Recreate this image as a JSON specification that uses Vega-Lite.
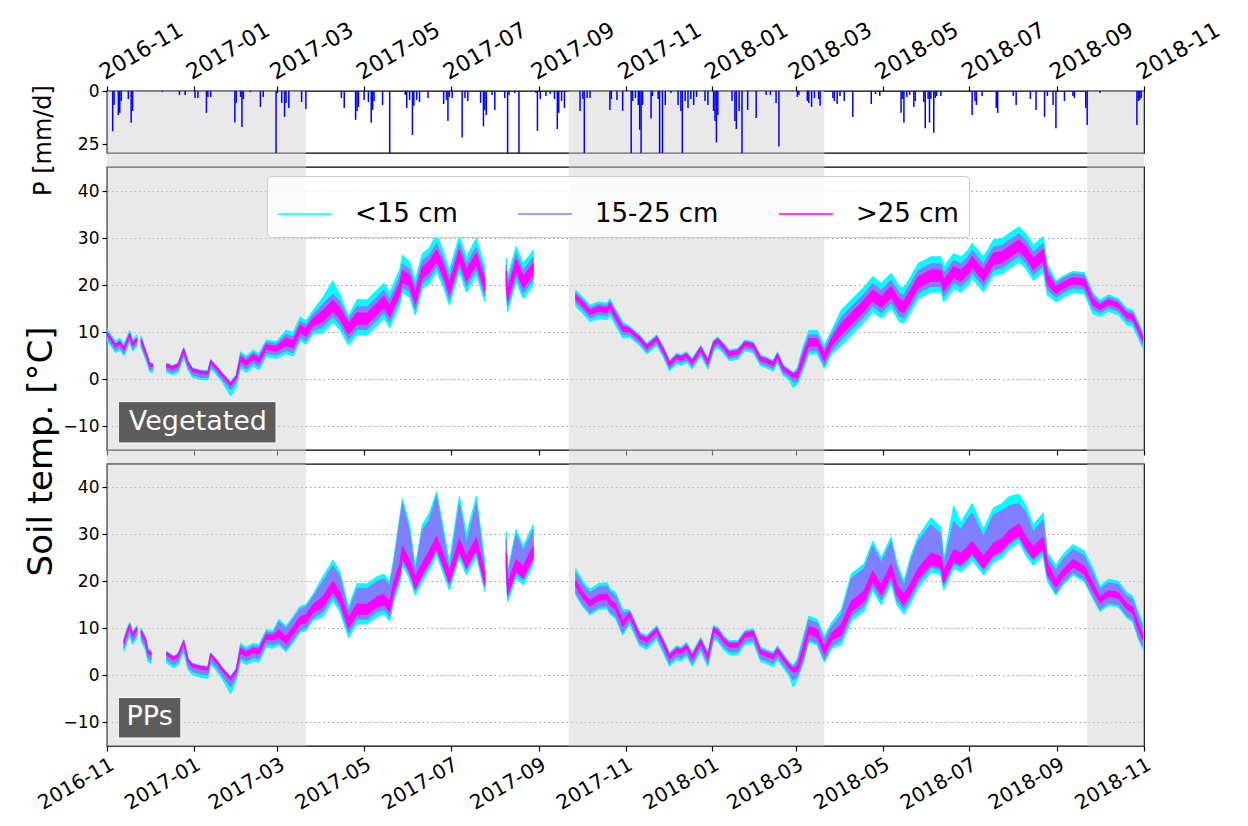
{
"$schema": "https://vega.github.io/schema/vega-lite/v6.json",
"padding": {"left": 23, "top": 17, "right": 10, "bottom": 5},
"background": "white",
"bounds": "flush",
"spacing": 14,
"config": {
  "font": "DejaVu Sans",
  "view": {"stroke": "#000000", "strokeWidth": 1.3},
  "axis": {"domain": false, "grid": false, "labelFont": "DejaVu Sans", "labelFontSize": 17, "labelColor": "#000000", "tickColor": "#000000", "tickSize": 5, "tickWidth": 1.2, "labelPadding": 3, "titleFont": "DejaVu Sans", "titleFontWeight": "normal", "titleColor": "#000000", "labelOverlap": false, "labelFlush": false, "labelBound": false}
},
"datasets": {
  "shade": [
    {"s": "2016-11-01", "e": "2017-03-21"},
    {"s": "2017-09-22", "e": "2018-03-21"},
    {"s": "2018-09-22", "e": "2018-11-01"}
  ],
  "precip": [
    {"d":"2016-11-05","mm":19},{"d":"2016-11-06","mm":6.6},{"d":"2016-11-09","mm":11.3},{"d":"2016-11-10","mm":10.3},{"d":"2016-11-11","mm":4.7},{"d":"2016-11-16","mm":3.8},{"d":"2016-11-18","mm":15},{"d":"2016-11-19","mm":9.4},
    {"d":"2016-12-10","mm":0.5},{"d":"2016-12-22","mm":1.9},{"d":"2016-12-26","mm":1.9},
    {"d":"2017-01-02","mm":3.3},{"d":"2017-01-04","mm":3.3},{"d":"2017-01-10","mm":10.3},{"d":"2017-01-11","mm":2.8},{"d":"2017-01-13","mm":2.8},{"d":"2017-01-30","mm":14.8},{"d":"2017-01-31","mm":5.6},
    {"d":"2017-02-03","mm":2.8},{"d":"2017-02-04","mm":16.9},{"d":"2017-02-05","mm":3.8},{"d":"2017-02-10","mm":0.5},{"d":"2017-02-17","mm":7.5},{"d":"2017-02-19","mm":2.8},{"d":"2017-02-28","mm":35},
    {"d":"2017-03-01","mm":1},{"d":"2017-03-04","mm":5.6},{"d":"2017-03-06","mm":12.2},{"d":"2017-03-07","mm":5.6},{"d":"2017-03-09","mm":8},{"d":"2017-03-18","mm":5.2},{"d":"2017-03-21","mm":8.5},
    {"d":"2017-04-15","mm":3.3},{"d":"2017-04-17","mm":8},{"d":"2017-04-25","mm":13.6},{"d":"2017-04-26","mm":9.4},{"d":"2017-04-27","mm":7.5},
    {"d":"2017-05-01","mm":4.2},{"d":"2017-05-04","mm":5.2},{"d":"2017-05-06","mm":15},{"d":"2017-05-07","mm":8.9},{"d":"2017-05-08","mm":4.7},{"d":"2017-05-14","mm":6.6},{"d":"2017-05-19","mm":35},{"d":"2017-05-30","mm":1.9},{"d":"2017-05-31","mm":8},
    {"d":"2017-06-02","mm":4.2},{"d":"2017-06-04","mm":20.7},{"d":"2017-06-05","mm":7},{"d":"2017-06-07","mm":4.2},{"d":"2017-06-09","mm":5.2},{"d":"2017-06-15","mm":3.3},{"d":"2017-06-26","mm":6.1},{"d":"2017-06-28","mm":4.2},{"d":"2017-06-29","mm":14.1},{"d":"2017-06-30","mm":2.8},
    {"d":"2017-07-02","mm":3.3},{"d":"2017-07-09","mm":21.9},{"d":"2017-07-11","mm":3.3},{"d":"2017-07-13","mm":4.7},{"d":"2017-07-22","mm":5.6},{"d":"2017-07-24","mm":16.7},{"d":"2017-07-25","mm":8.9},{"d":"2017-07-26","mm":11.3},{"d":"2017-07-30","mm":1.9},
    {"d":"2017-08-01","mm":8.9},{"d":"2017-08-08","mm":3.3},{"d":"2017-08-10","mm":35},{"d":"2017-08-11","mm":1.9},{"d":"2017-08-15","mm":1},{"d":"2017-08-18","mm":35},{"d":"2017-08-30","mm":1},{"d":"2017-08-31","mm":18.8},
    {"d":"2017-09-02","mm":3.8},{"d":"2017-09-06","mm":2.4},{"d":"2017-09-09","mm":1.4},{"d":"2017-09-12","mm":3.8},{"d":"2017-09-14","mm":17.9},{"d":"2017-09-15","mm":10.3},{"d":"2017-09-17","mm":4.7},{"d":"2017-09-19","mm":8},{"d":"2017-09-30","mm":9.4},
    {"d":"2017-10-02","mm":3.8},{"d":"2017-10-03","mm":35},{"d":"2017-10-05","mm":3.3},{"d":"2017-10-07","mm":3.3},{"d":"2017-10-21","mm":8.9},{"d":"2017-10-22","mm":3.8},{"d":"2017-10-26","mm":4.2},{"d":"2017-10-30","mm":9.4},
    {"d":"2017-11-05","mm":35},{"d":"2017-11-06","mm":4.7},{"d":"2017-11-08","mm":3.3},{"d":"2017-11-10","mm":6.6},{"d":"2017-11-11","mm":18.3},{"d":"2017-11-12","mm":35},{"d":"2017-11-13","mm":6.6},{"d":"2017-11-19","mm":12.9},{"d":"2017-11-20","mm":2.4},{"d":"2017-11-24","mm":3.8},{"d":"2017-11-25","mm":35},{"d":"2017-11-27","mm":35},{"d":"2017-11-29","mm":6.6},
    {"d":"2017-12-03","mm":1},{"d":"2017-12-08","mm":6.6},{"d":"2017-12-10","mm":9.4},{"d":"2017-12-11","mm":35},{"d":"2017-12-13","mm":4.7},{"d":"2017-12-15","mm":8},{"d":"2017-12-17","mm":3.8},{"d":"2017-12-19","mm":6.6},{"d":"2017-12-21","mm":2.8},{"d":"2017-12-27","mm":4.7},{"d":"2017-12-29","mm":6.6},
    {"d":"2018-01-02","mm":9.4},{"d":"2018-01-03","mm":14.1},{"d":"2018-01-04","mm":24.2},{"d":"2018-01-05","mm":11.3},{"d":"2018-01-15","mm":4.7},{"d":"2018-01-17","mm":14.1},{"d":"2018-01-18","mm":17.9},{"d":"2018-01-20","mm":9.4},{"d":"2018-01-22","mm":35},{"d":"2018-01-26","mm":8.9},
    {"d":"2018-02-01","mm":12.7},{"d":"2018-02-08","mm":1.9},{"d":"2018-02-11","mm":1.9},{"d":"2018-02-15","mm":5.6},{"d":"2018-02-17","mm":26.1},
    {"d":"2018-03-02","mm":2.8},{"d":"2018-03-03","mm":1.9},{"d":"2018-03-09","mm":4.7},{"d":"2018-03-10","mm":5.6},{"d":"2018-03-12","mm":7.5},{"d":"2018-03-14","mm":3.3},{"d":"2018-03-17","mm":3.8},{"d":"2018-03-18","mm":7},{"d":"2018-03-27","mm":3.3},{"d":"2018-03-28","mm":4.7},{"d":"2018-03-30","mm":6.1},
    {"d":"2018-04-01","mm":2.4},{"d":"2018-04-04","mm":4.7},{"d":"2018-04-10","mm":12.2},{"d":"2018-04-23","mm":6.1},{"d":"2018-04-26","mm":1.4},{"d":"2018-04-29","mm":2.4},
    {"d":"2018-05-14","mm":10.3},{"d":"2018-05-15","mm":3.8},{"d":"2018-05-16","mm":15},{"d":"2018-05-18","mm":2.8},{"d":"2018-05-20","mm":1.9},{"d":"2018-05-23","mm":7.5},{"d":"2018-05-24","mm":4.7},{"d":"2018-05-30","mm":5.2},{"d":"2018-05-31","mm":17.6},
    {"d":"2018-06-02","mm":3.8},{"d":"2018-06-03","mm":14.9},{"d":"2018-06-04","mm":3.8},{"d":"2018-06-06","mm":19.7},{"d":"2018-06-07","mm":3.3},{"d":"2018-06-08","mm":2.4},{"d":"2018-06-11","mm":2.4},
    {"d":"2018-07-03","mm":11.3},{"d":"2018-07-05","mm":4.7},{"d":"2018-07-06","mm":6.6},{"d":"2018-07-10","mm":2.4},{"d":"2018-07-20","mm":8},{"d":"2018-07-21","mm":10.3},
    {"d":"2018-08-01","mm":2.4},{"d":"2018-08-03","mm":6.6},{"d":"2018-08-13","mm":3.8},{"d":"2018-08-17","mm":8.9},{"d":"2018-08-23","mm":12.2},{"d":"2018-08-25","mm":2.4},{"d":"2018-08-29","mm":6.6},{"d":"2018-08-31","mm":17.6},
    {"d":"2018-09-06","mm":4.7},{"d":"2018-09-12","mm":2.4},{"d":"2018-09-13","mm":3.3},{"d":"2018-09-21","mm":8},{"d":"2018-09-22","mm":16},
    {"d":"2018-10-01","mm":1},{"d":"2018-10-27","mm":16},{"d":"2018-10-28","mm":4.7},{"d":"2018-10-29","mm":4.2},{"d":"2018-10-30","mm":3.3}
  ],
  "veg": [
    {"d":"2016-11-01","g":1,"cl":8.3,"ch":10.8,"bl":8.8,"bh":10.2,"ml":9.5,"mh":10.1},
    {"d":"2016-11-04","g":1,"cl":7.0,"ch":9.5,"bl":7.5,"bh":8.9,"ml":8.2,"mh":8.8},
    {"d":"2016-11-07","g":1,"cl":5.7,"ch":8.2,"bl":6.2,"bh":7.6,"ml":6.9,"mh":7.5},
    {"d":"2016-11-10","g":1,"cl":6.3,"ch":8.8,"bl":6.8,"bh":8.2,"ml":7.5,"mh":8.1},
    {"d":"2016-11-13","g":1,"cl":5.0,"ch":7.5,"bl":5.5,"bh":6.9,"ml":6.2,"mh":6.8},
    {"d":"2016-11-17","g":1,"cl":8.0,"ch":10.5,"bl":8.5,"bh":9.9,"ml":9.2,"mh":9.8},
    {"d":"2016-11-19","g":1,"cl":6.0,"ch":8.5,"bl":6.5,"bh":7.9,"ml":7.2,"mh":7.8},
    {"d":"2016-11-22","g":1,"cl":7.0,"ch":9.5,"bl":7.5,"bh":8.9,"ml":8.2,"mh":8.8},
    {"d":"2016-11-25","g":2,"cl":6.8,"ch":9.3,"bl":7.3,"bh":8.7,"ml":8.0,"mh":8.6},
    {"d":"2016-11-29","g":2,"cl":3.6,"ch":5.6,"bl":4.1,"bh":5.3,"ml":4.8,"mh":5.4},
    {"d":"2016-12-01","g":2,"cl":1.6,"ch":3.6,"bl":2.1,"bh":3.3,"ml":2.8,"mh":3.4},
    {"d":"2016-12-03","g":2,"cl":1.5,"ch":3.5,"bl":2.0,"bh":3.2,"ml":2.7,"mh":3.3},
    {"d":"2016-12-13","g":3,"cl":1.5,"ch":3.5,"bl":2.0,"bh":3.2,"ml":2.7,"mh":3.3},
    {"d":"2016-12-17","g":3,"cl":1.0,"ch":3.0,"bl":1.5,"bh":2.7,"ml":2.2,"mh":2.8},
    {"d":"2016-12-21","g":3,"cl":1.5,"ch":3.5,"bl":2.0,"bh":3.2,"ml":2.7,"mh":3.3},
    {"d":"2016-12-25","g":3,"cl":4.8,"ch":6.8,"bl":5.3,"bh":6.5,"ml":6.0,"mh":6.6},
    {"d":"2016-12-28","g":3,"cl":2.0,"ch":4.0,"bl":2.5,"bh":3.7,"ml":3.2,"mh":3.8},
    {"d":"2016-12-31","g":3,"cl":0.5,"ch":2.5,"bl":1.0,"bh":2.2,"ml":1.7,"mh":2.3},
    {"d":"2017-01-06","g":3,"cl":0.0,"ch":2.0,"bl":0.5,"bh":1.7,"ml":1.2,"mh":1.8},
    {"d":"2017-01-11","g":3,"cl":-0.1,"ch":1.9,"bl":0.4,"bh":1.6,"ml":1.1,"mh":1.7},
    {"d":"2017-01-13","g":3,"cl":2.3,"ch":4.3,"bl":2.8,"bh":4.0,"ml":3.5,"mh":4.1},
    {"d":"2017-01-17","g":3,"cl":1.0,"ch":3.0,"bl":1.5,"bh":2.7,"ml":2.2,"mh":2.8},
    {"d":"2017-01-21","g":3,"cl":-0.5,"ch":1.5,"bl":0.0,"bh":1.2,"ml":0.7,"mh":1.3},
    {"d":"2017-01-27","g":3,"cl":-3.5,"ch":-0.4,"bl":-2.2,"bh":-0.8,"ml":-1.3,"mh":-0.7},
    {"d":"2017-01-31","g":3,"cl":-1.5,"ch":1.0,"bl":-0.5,"bh":0.7,"ml":0.2,"mh":0.8},
    {"d":"2017-02-03","g":3,"cl":2.4,"ch":5.9,"bl":3.1,"bh":5.4,"ml":3.9,"mh":4.9},
    {"d":"2017-02-07","g":3,"cl":1.5,"ch":5.0,"bl":2.2,"bh":4.5,"ml":3.0,"mh":4.0},
    {"d":"2017-02-12","g":3,"cl":2.8,"ch":6.3,"bl":3.5,"bh":5.8,"ml":4.3,"mh":5.3},
    {"d":"2017-02-16","g":3,"cl":2.0,"ch":5.5,"bl":2.7,"bh":5.0,"ml":3.5,"mh":4.5},
    {"d":"2017-02-21","g":3,"cl":4.9,"ch":8.4,"bl":5.6,"bh":7.9,"ml":6.4,"mh":7.4},
    {"d":"2017-02-28","g":3,"cl":4.5,"ch":8.0,"bl":5.2,"bh":7.5,"ml":6.0,"mh":7.0},
    {"d":"2017-03-07","g":3,"cl":5.5,"ch":10.5,"bl":6.2,"bh":9.6,"ml":7.2,"mh":8.8},
    {"d":"2017-03-12","g":3,"cl":5.0,"ch":10.0,"bl":5.7,"bh":9.1,"ml":6.7,"mh":8.3},
    {"d":"2017-03-17","g":3,"cl":8.3,"ch":13.3,"bl":9.0,"bh":12.4,"ml":10.0,"mh":11.6},
    {"d":"2017-03-21","g":3,"cl":7.5,"ch":12.5,"bl":8.2,"bh":11.6,"ml":9.2,"mh":10.8},
    {"d":"2017-03-26","g":3,"cl":9.7,"ch":14.7,"bl":10.4,"bh":13.8,"ml":11.4,"mh":13.0},
    {"d":"2017-04-02","g":3,"cl":10.0,"ch":17.5,"bl":11.2,"bh":16.0,"ml":12.3,"mh":14.7},
    {"d":"2017-04-09","g":3,"cl":12.2,"ch":21.0,"bl":13.4,"bh":18.2,"ml":14.5,"mh":16.9},
    {"d":"2017-04-14","g":3,"cl":10.5,"ch":18.0,"bl":11.7,"bh":16.5,"ml":12.8,"mh":15.2},
    {"d":"2017-04-20","g":3,"cl":7.3,"ch":13.5,"bl":8.5,"bh":12.8,"ml":9.6,"mh":12.0},
    {"d":"2017-04-26","g":3,"cl":9.5,"ch":17.0,"bl":10.7,"bh":15.5,"ml":11.8,"mh":14.2},
    {"d":"2017-05-03","g":3,"cl":9.4,"ch":16.9,"bl":10.6,"bh":15.4,"ml":11.7,"mh":14.1},
    {"d":"2017-05-10","g":3,"cl":11.5,"ch":19.0,"bl":12.7,"bh":17.5,"ml":13.8,"mh":16.2},
    {"d":"2017-05-15","g":3,"cl":13.0,"ch":20.5,"bl":14.2,"bh":19.0,"ml":15.3,"mh":17.7},
    {"d":"2017-05-19","g":3,"cl":11.0,"ch":18.5,"bl":12.2,"bh":17.0,"ml":13.3,"mh":15.7},
    {"d":"2017-05-26","g":3,"cl":15.8,"ch":23.3,"bl":17.0,"bh":21.8,"ml":18.1,"mh":20.5},
    {"d":"2017-05-28","g":3,"cl":18.5,"ch":26.5,"bl":19.7,"bh":24.5,"ml":20.8,"mh":23.2},
    {"d":"2017-06-02","g":3,"cl":17.5,"ch":25.0,"bl":18.7,"bh":23.5,"ml":19.8,"mh":22.2},
    {"d":"2017-06-06","g":3,"cl":13.7,"ch":21.2,"bl":14.9,"bh":19.7,"ml":16.0,"mh":18.4},
    {"d":"2017-06-11","g":3,"cl":19.3,"ch":26.8,"bl":20.5,"bh":25.3,"ml":21.6,"mh":24.0},
    {"d":"2017-06-16","g":3,"cl":20.5,"ch":28.0,"bl":21.7,"bh":26.5,"ml":22.8,"mh":25.2},
    {"d":"2017-06-21","g":3,"cl":22.9,"ch":31.0,"bl":24.1,"bh":28.9,"ml":25.2,"mh":27.6},
    {"d":"2017-06-26","g":3,"cl":19.5,"ch":27.0,"bl":20.7,"bh":25.5,"ml":21.8,"mh":24.2},
    {"d":"2017-06-30","g":3,"cl":15.8,"ch":23.3,"bl":17.0,"bh":21.8,"ml":18.1,"mh":20.5},
    {"d":"2017-07-07","g":3,"cl":22.9,"ch":30.5,"bl":24.1,"bh":28.9,"ml":25.2,"mh":27.6},
    {"d":"2017-07-12","g":3,"cl":18.6,"ch":26.1,"bl":19.8,"bh":24.6,"ml":20.9,"mh":23.3},
    {"d":"2017-07-19","g":3,"cl":22.2,"ch":30.0,"bl":23.4,"bh":28.2,"ml":24.5,"mh":26.9},
    {"d":"2017-07-25","g":3,"cl":16.5,"ch":24.0,"bl":17.7,"bh":22.5,"ml":18.8,"mh":21.2},
    {"d":"2017-08-09","g":4,"cl":18.3,"ch":25.8,"bl":19.5,"bh":24.3,"ml":20.6,"mh":23.0},
    {"d":"2017-08-10","g":4,"cl":14.4,"ch":21.9,"bl":15.6,"bh":20.4,"ml":16.7,"mh":19.1},
    {"d":"2017-08-16","g":4,"cl":20.8,"ch":28.3,"bl":22.0,"bh":26.8,"ml":23.1,"mh":25.5},
    {"d":"2017-08-21","g":4,"cl":17.2,"ch":24.7,"bl":18.4,"bh":23.2,"ml":19.5,"mh":21.9},
    {"d":"2017-08-28","g":4,"cl":20.0,"ch":27.5,"bl":21.2,"bh":26.0,"ml":22.3,"mh":24.7},
    {"d":"2017-09-27","g":5,"cl":15.5,"ch":19.0,"bl":16.3,"bh":18.5,"ml":17.0,"mh":18.0},
    {"d":"2017-10-02","g":5,"cl":14.0,"ch":17.5,"bl":14.8,"bh":17.0,"ml":15.5,"mh":16.5},
    {"d":"2017-10-07","g":5,"cl":12.3,"ch":15.8,"bl":13.1,"bh":15.3,"ml":13.8,"mh":14.8},
    {"d":"2017-10-13","g":5,"cl":13.0,"ch":16.5,"bl":13.8,"bh":16.0,"ml":14.5,"mh":15.5},
    {"d":"2017-10-19","g":5,"cl":12.7,"ch":16.2,"bl":13.5,"bh":15.7,"ml":14.2,"mh":15.2},
    {"d":"2017-10-21","g":5,"cl":13.7,"ch":17.2,"bl":14.5,"bh":16.7,"ml":15.2,"mh":16.2},
    {"d":"2017-10-25","g":5,"cl":11.5,"ch":15.0,"bl":12.3,"bh":14.5,"ml":13.0,"mh":14.0},
    {"d":"2017-10-30","g":5,"cl":8.8,"ch":12.3,"bl":9.6,"bh":11.8,"ml":10.3,"mh":11.3},
    {"d":"2017-11-04","g":5,"cl":9.0,"ch":11.3,"bl":9.5,"bh":11.0,"ml":10.1,"mh":10.9},
    {"d":"2017-11-11","g":5,"cl":7.2,"ch":9.5,"bl":7.7,"bh":9.2,"ml":8.3,"mh":9.1},
    {"d":"2017-11-16","g":5,"cl":5.4,"ch":7.7,"bl":5.9,"bh":7.4,"ml":6.5,"mh":7.3},
    {"d":"2017-11-23","g":5,"cl":7.2,"ch":9.5,"bl":7.7,"bh":9.2,"ml":8.3,"mh":9.1},
    {"d":"2017-11-28","g":5,"cl":4.5,"ch":6.8,"bl":5.0,"bh":6.5,"ml":5.6,"mh":6.4},
    {"d":"2017-12-02","g":5,"cl":1.8,"ch":4.1,"bl":2.3,"bh":3.8,"ml":2.9,"mh":3.7},
    {"d":"2017-12-07","g":5,"cl":3.3,"ch":5.6,"bl":3.8,"bh":5.3,"ml":4.4,"mh":5.2},
    {"d":"2017-12-10","g":5,"cl":3.0,"ch":5.3,"bl":3.5,"bh":5.0,"ml":4.1,"mh":4.9},
    {"d":"2017-12-14","g":5,"cl":3.6,"ch":5.9,"bl":4.1,"bh":5.6,"ml":4.7,"mh":5.5},
    {"d":"2017-12-18","g":5,"cl":2.2,"ch":4.5,"bl":2.7,"bh":4.2,"ml":3.3,"mh":4.1},
    {"d":"2017-12-24","g":5,"cl":5.0,"ch":7.3,"bl":5.5,"bh":7.0,"ml":6.1,"mh":6.9},
    {"d":"2017-12-29","g":5,"cl":2.2,"ch":4.5,"bl":2.7,"bh":4.2,"ml":3.3,"mh":4.1},
    {"d":"2018-01-02","g":5,"cl":6.1,"ch":8.4,"bl":6.6,"bh":8.1,"ml":7.2,"mh":8.0},
    {"d":"2018-01-05","g":5,"cl":6.8,"ch":9.1,"bl":7.3,"bh":8.8,"ml":7.9,"mh":8.7},
    {"d":"2018-01-09","g":5,"cl":5.5,"ch":7.8,"bl":6.0,"bh":7.5,"ml":6.6,"mh":7.4},
    {"d":"2018-01-13","g":5,"cl":4.0,"ch":6.3,"bl":4.5,"bh":6.0,"ml":5.1,"mh":5.9},
    {"d":"2018-01-19","g":5,"cl":4.3,"ch":6.6,"bl":4.8,"bh":6.3,"ml":5.4,"mh":6.2},
    {"d":"2018-01-24","g":5,"cl":6.1,"ch":8.4,"bl":6.6,"bh":8.1,"ml":7.2,"mh":8.0},
    {"d":"2018-01-30","g":5,"cl":5.7,"ch":8.0,"bl":6.2,"bh":7.7,"ml":6.8,"mh":7.6},
    {"d":"2018-02-04","g":5,"cl":2.9,"ch":5.2,"bl":3.4,"bh":4.9,"ml":4.0,"mh":4.8},
    {"d":"2018-02-08","g":5,"cl":2.5,"ch":4.8,"bl":3.0,"bh":4.5,"ml":3.6,"mh":4.4},
    {"d":"2018-02-13","g":5,"cl":1.8,"ch":4.1,"bl":2.3,"bh":3.8,"ml":2.9,"mh":3.7},
    {"d":"2018-02-16","g":5,"cl":3.6,"ch":5.9,"bl":4.1,"bh":5.6,"ml":4.7,"mh":5.5},
    {"d":"2018-02-20","g":5,"cl":0.8,"ch":3.1,"bl":1.3,"bh":2.8,"ml":1.9,"mh":2.7},
    {"d":"2018-02-24","g":5,"cl":0.0,"ch":2.3,"bl":0.5,"bh":2.0,"ml":1.1,"mh":1.9},
    {"d":"2018-02-27","g":5,"cl":-1.8,"ch":1.5,"bl":-0.5,"bh":1.3,"ml":0.5,"mh":1.3},
    {"d":"2018-03-02","g":5,"cl":-1.0,"ch":2.5,"bl":-0.5,"bh":2.0,"ml":0.3,"mh":1.5},
    {"d":"2018-03-06","g":5,"cl":2.0,"ch":7.0,"bl":2.7,"bh":6.1,"ml":3.7,"mh":5.3},
    {"d":"2018-03-10","g":5,"cl":5.4,"ch":10.4,"bl":6.1,"bh":9.5,"ml":7.1,"mh":8.7},
    {"d":"2018-03-16","g":5,"cl":5.4,"ch":10.4,"bl":6.1,"bh":9.5,"ml":7.1,"mh":8.7},
    {"d":"2018-03-21","g":5,"cl":2.3,"ch":7.3,"bl":3.0,"bh":6.4,"ml":4.0,"mh":5.6},
    {"d":"2018-03-26","g":5,"cl":5.4,"ch":10.4,"bl":6.1,"bh":9.5,"ml":7.1,"mh":8.7},
    {"d":"2018-04-02","g":5,"cl":7.3,"ch":14.8,"bl":8.5,"bh":13.3,"ml":9.6,"mh":12.0},
    {"d":"2018-04-06","g":5,"cl":8.5,"ch":16.0,"bl":9.7,"bh":14.5,"ml":10.8,"mh":13.2},
    {"d":"2018-04-11","g":5,"cl":10.1,"ch":17.6,"bl":11.3,"bh":16.1,"ml":12.4,"mh":14.8},
    {"d":"2018-04-18","g":5,"cl":12.2,"ch":19.7,"bl":13.4,"bh":18.2,"ml":14.5,"mh":16.9},
    {"d":"2018-04-24","g":5,"cl":14.4,"ch":21.9,"bl":15.6,"bh":20.4,"ml":16.7,"mh":19.1},
    {"d":"2018-04-30","g":5,"cl":13.0,"ch":20.5,"bl":14.2,"bh":19.0,"ml":15.3,"mh":17.7},
    {"d":"2018-05-07","g":5,"cl":15.1,"ch":22.6,"bl":16.3,"bh":21.1,"ml":17.4,"mh":19.8},
    {"d":"2018-05-13","g":5,"cl":12.2,"ch":19.7,"bl":13.4,"bh":18.2,"ml":14.5,"mh":16.9},
    {"d":"2018-05-16","g":5,"cl":12.0,"ch":19.5,"bl":13.2,"bh":18.0,"ml":14.3,"mh":16.7},
    {"d":"2018-05-21","g":5,"cl":14.5,"ch":22.0,"bl":15.7,"bh":20.5,"ml":16.8,"mh":19.2},
    {"d":"2018-05-26","g":5,"cl":17.2,"ch":24.7,"bl":18.4,"bh":23.2,"ml":19.5,"mh":21.9},
    {"d":"2018-06-04","g":5,"cl":18.6,"ch":26.1,"bl":19.8,"bh":24.6,"ml":20.9,"mh":23.3},
    {"d":"2018-06-11","g":5,"cl":18.6,"ch":26.1,"bl":19.8,"bh":24.6,"ml":20.9,"mh":23.3},
    {"d":"2018-06-13","g":5,"cl":16.5,"ch":24.0,"bl":17.7,"bh":22.5,"ml":18.8,"mh":21.2},
    {"d":"2018-06-20","g":5,"cl":19.3,"ch":26.8,"bl":20.5,"bh":25.3,"ml":21.6,"mh":24.0},
    {"d":"2018-06-25","g":5,"cl":18.6,"ch":26.1,"bl":19.8,"bh":24.6,"ml":20.9,"mh":23.3},
    {"d":"2018-06-30","g":5,"cl":20.0,"ch":27.5,"bl":21.2,"bh":26.0,"ml":22.3,"mh":24.7},
    {"d":"2018-07-03","g":5,"cl":21.5,"ch":29.0,"bl":22.7,"bh":27.5,"ml":23.8,"mh":26.2},
    {"d":"2018-07-11","g":5,"cl":18.6,"ch":26.1,"bl":19.8,"bh":24.6,"ml":20.9,"mh":23.3},
    {"d":"2018-07-18","g":5,"cl":22.2,"ch":29.7,"bl":23.4,"bh":28.2,"ml":24.5,"mh":26.9},
    {"d":"2018-07-24","g":5,"cl":22.5,"ch":30.0,"bl":23.7,"bh":28.5,"ml":24.8,"mh":27.2},
    {"d":"2018-07-29","g":5,"cl":23.6,"ch":31.1,"bl":24.8,"bh":29.6,"ml":25.9,"mh":28.3},
    {"d":"2018-08-05","g":5,"cl":25.0,"ch":32.5,"bl":26.2,"bh":31.0,"ml":27.3,"mh":29.7},
    {"d":"2018-08-10","g":5,"cl":23.5,"ch":31.0,"bl":24.7,"bh":29.5,"ml":25.8,"mh":28.2},
    {"d":"2018-08-15","g":5,"cl":21.1,"ch":28.6,"bl":22.3,"bh":27.1,"ml":23.4,"mh":25.8},
    {"d":"2018-08-22","g":5,"cl":22.9,"ch":30.4,"bl":24.1,"bh":28.9,"ml":25.2,"mh":27.6},
    {"d":"2018-08-25","g":5,"cl":17.9,"ch":24.5,"bl":19.1,"bh":23.5,"ml":20.2,"mh":22.6},
    {"d":"2018-08-31","g":5,"cl":16.5,"ch":21.0,"bl":17.5,"bh":20.5,"ml":18.3,"mh":19.7},
    {"d":"2018-09-05","g":5,"cl":17.5,"ch":22.0,"bl":18.5,"bh":21.5,"ml":19.3,"mh":20.7},
    {"d":"2018-09-12","g":5,"cl":18.5,"ch":23.0,"bl":19.5,"bh":22.5,"ml":20.3,"mh":21.7},
    {"d":"2018-09-20","g":5,"cl":18.2,"ch":22.7,"bl":19.2,"bh":22.2,"ml":20.0,"mh":21.4},
    {"d":"2018-09-26","g":5,"cl":14.0,"ch":18.5,"bl":15.0,"bh":18.0,"ml":15.8,"mh":17.2},
    {"d":"2018-10-01","g":5,"cl":13.4,"ch":16.9,"bl":14.2,"bh":16.4,"ml":14.9,"mh":15.9},
    {"d":"2018-10-07","g":5,"cl":14.5,"ch":18.0,"bl":15.3,"bh":17.5,"ml":16.0,"mh":17.0},
    {"d":"2018-10-14","g":5,"cl":13.7,"ch":17.2,"bl":14.5,"bh":16.7,"ml":15.2,"mh":16.2},
    {"d":"2018-10-20","g":5,"cl":11.6,"ch":15.1,"bl":12.4,"bh":14.6,"ml":13.1,"mh":14.1},
    {"d":"2018-10-24","g":5,"cl":11.3,"ch":14.8,"bl":12.1,"bh":14.3,"ml":12.8,"mh":13.8},
    {"d":"2018-10-28","g":5,"cl":8.8,"ch":12.3,"bl":9.6,"bh":11.8,"ml":10.3,"mh":11.3},
    {"d":"2018-10-31","g":5,"cl":6.7,"ch":10.2,"bl":7.5,"bh":9.7,"ml":8.2,"mh":9.2}
  ],
  "pps": [
    {"d":"2016-11-13","g":1,"cl":5.1,"ch":7.9,"bl":5.8,"bh":7.6,"ml":6.8,"mh":7.4},
    {"d":"2016-11-15","g":1,"cl":7.0,"ch":9.8,"bl":7.7,"bh":9.5,"ml":8.7,"mh":9.3},
    {"d":"2016-11-17","g":1,"cl":8.5,"ch":11.3,"bl":9.2,"bh":11.0,"ml":10.2,"mh":10.8},
    {"d":"2016-11-19","g":1,"cl":6.5,"ch":9.3,"bl":7.2,"bh":9.0,"ml":8.2,"mh":8.8},
    {"d":"2016-11-22","g":1,"cl":7.8,"ch":10.6,"bl":8.5,"bh":10.3,"ml":9.5,"mh":10.1},
    {"d":"2016-11-25","g":2,"cl":7.2,"ch":10.0,"bl":7.9,"bh":9.7,"ml":8.9,"mh":9.5},
    {"d":"2016-11-28","g":2,"cl":5.5,"ch":8.3,"bl":6.2,"bh":8.0,"ml":7.2,"mh":7.8},
    {"d":"2016-11-30","g":2,"cl":2.8,"ch":5.6,"bl":3.5,"bh":5.3,"ml":4.5,"mh":5.1},
    {"d":"2016-12-02","g":2,"cl":2.6,"ch":5.4,"bl":3.3,"bh":5.1,"ml":4.3,"mh":4.9},
    {"d":"2016-12-13","g":3,"cl":2.6,"ch":5.1,"bl":3.3,"bh":4.9,"ml":4.3,"mh":4.9},
    {"d":"2016-12-18","g":3,"cl":1.6,"ch":4.1,"bl":2.3,"bh":3.9,"ml":3.3,"mh":3.9},
    {"d":"2016-12-21","g":3,"cl":2.2,"ch":4.7,"bl":2.9,"bh":4.5,"ml":3.9,"mh":4.5},
    {"d":"2016-12-25","g":3,"cl":5.1,"ch":7.6,"bl":5.8,"bh":7.4,"ml":6.8,"mh":7.4},
    {"d":"2016-12-28","g":3,"cl":1.2,"ch":3.7,"bl":1.9,"bh":3.5,"ml":2.9,"mh":3.5},
    {"d":"2016-12-31","g":3,"cl":0.1,"ch":2.6,"bl":0.8,"bh":2.4,"ml":1.8,"mh":2.4},
    {"d":"2017-01-06","g":3,"cl":-0.4,"ch":2.1,"bl":0.3,"bh":1.9,"ml":1.3,"mh":1.9},
    {"d":"2017-01-11","g":3,"cl":-0.6,"ch":1.9,"bl":0.1,"bh":1.7,"ml":1.1,"mh":1.7},
    {"d":"2017-01-13","g":3,"cl":2.3,"ch":4.8,"bl":3.0,"bh":4.6,"ml":4.0,"mh":4.6},
    {"d":"2017-01-17","g":3,"cl":1.0,"ch":3.5,"bl":1.7,"bh":3.3,"ml":2.7,"mh":3.3},
    {"d":"2017-01-21","g":3,"cl":-0.7,"ch":1.8,"bl":0.0,"bh":1.6,"ml":1.0,"mh":1.6},
    {"d":"2017-01-27","g":3,"cl":-3.9,"ch":-0.2,"bl":-2.5,"bh":-0.4,"ml":-1.0,"mh":-0.4},
    {"d":"2017-01-31","g":3,"cl":-1.0,"ch":1.5,"bl":-0.3,"bh":1.3,"ml":0.7,"mh":1.3},
    {"d":"2017-02-03","g":3,"cl":3.1,"ch":6.8,"bl":3.8,"bh":6.3,"ml":4.8,"mh":5.8},
    {"d":"2017-02-07","g":3,"cl":2.3,"ch":6.0,"bl":3.0,"bh":5.5,"ml":4.0,"mh":5.0},
    {"d":"2017-02-12","g":3,"cl":3.1,"ch":6.8,"bl":3.8,"bh":6.3,"ml":4.8,"mh":5.8},
    {"d":"2017-02-16","g":3,"cl":2.8,"ch":6.5,"bl":3.5,"bh":6.0,"ml":4.5,"mh":5.5},
    {"d":"2017-02-21","g":3,"cl":6.0,"ch":9.7,"bl":6.7,"bh":9.2,"ml":7.7,"mh":8.7},
    {"d":"2017-02-26","g":3,"cl":5.8,"ch":9.5,"bl":6.5,"bh":9.0,"ml":7.5,"mh":8.5},
    {"d":"2017-03-02","g":3,"cl":6.4,"ch":11.9,"bl":6.9,"bh":11.4,"ml":8.1,"mh":9.7},
    {"d":"2017-03-07","g":3,"cl":5.0,"ch":10.5,"bl":5.5,"bh":10.0,"ml":6.7,"mh":8.3},
    {"d":"2017-03-12","g":3,"cl":7.0,"ch":12.5,"bl":7.5,"bh":12.0,"ml":8.7,"mh":10.3},
    {"d":"2017-03-17","g":3,"cl":9.2,"ch":14.7,"bl":9.7,"bh":14.2,"ml":10.9,"mh":12.5},
    {"d":"2017-03-21","g":3,"cl":9.5,"ch":15.0,"bl":10.0,"bh":14.5,"ml":11.2,"mh":12.8},
    {"d":"2017-03-26","g":3,"cl":11.7,"ch":17.2,"bl":12.2,"bh":16.7,"ml":13.4,"mh":15.0},
    {"d":"2017-04-02","g":3,"cl":12.5,"ch":21.0,"bl":13.5,"bh":20.0,"ml":14.5,"mh":16.7},
    {"d":"2017-04-09","g":3,"cl":15.8,"ch":24.5,"bl":16.8,"bh":23.3,"ml":17.8,"mh":20.0},
    {"d":"2017-04-14","g":3,"cl":13.5,"ch":22.0,"bl":14.5,"bh":21.0,"ml":15.5,"mh":17.7},
    {"d":"2017-04-20","g":3,"cl":8.0,"ch":14.5,"bl":9.0,"bh":13.5,"ml":10.0,"mh":12.2},
    {"d":"2017-04-26","g":3,"cl":11.0,"ch":19.5,"bl":12.0,"bh":18.5,"ml":13.0,"mh":15.2},
    {"d":"2017-05-03","g":3,"cl":10.9,"ch":19.4,"bl":11.9,"bh":18.4,"ml":12.9,"mh":15.1},
    {"d":"2017-05-10","g":3,"cl":12.5,"ch":21.0,"bl":13.5,"bh":20.0,"ml":14.5,"mh":16.7},
    {"d":"2017-05-15","g":3,"cl":13.0,"ch":21.5,"bl":14.0,"bh":20.5,"ml":15.0,"mh":17.2},
    {"d":"2017-05-19","g":3,"cl":11.5,"ch":20.0,"bl":12.5,"bh":19.0,"ml":13.5,"mh":15.7},
    {"d":"2017-05-22","g":3,"cl":15.8,"ch":25.0,"bl":16.8,"bh":24.0,"ml":17.8,"mh":20.0},
    {"d":"2017-05-26","g":3,"cl":19.4,"ch":33.5,"bl":20.4,"bh":32.5,"ml":21.4,"mh":23.6},
    {"d":"2017-05-28","g":3,"cl":23.4,"ch":37.5,"bl":24.4,"bh":36.5,"ml":24.9,"mh":27.4},
    {"d":"2017-06-02","g":3,"cl":20.5,"ch":32.0,"bl":21.5,"bh":30.5,"ml":22.0,"mh":24.5},
    {"d":"2017-06-06","g":3,"cl":17.0,"ch":23.0,"bl":18.0,"bh":22.0,"ml":18.5,"mh":21.0},
    {"d":"2017-06-11","g":3,"cl":19.9,"ch":32.0,"bl":20.9,"bh":30.9,"ml":21.4,"mh":23.9},
    {"d":"2017-06-16","g":3,"cl":22.5,"ch":34.5,"bl":23.5,"bh":33.0,"ml":24.0,"mh":26.5},
    {"d":"2017-06-21","g":3,"cl":25.5,"ch":39.0,"bl":26.5,"bh":38.0,"ml":27.0,"mh":29.5},
    {"d":"2017-06-26","g":3,"cl":21.5,"ch":31.0,"bl":22.5,"bh":29.5,"ml":23.0,"mh":25.5},
    {"d":"2017-06-30","g":3,"cl":18.1,"ch":24.0,"bl":19.1,"bh":22.5,"ml":19.6,"mh":22.1},
    {"d":"2017-07-07","g":3,"cl":24.9,"ch":38.0,"bl":25.9,"bh":36.5,"ml":26.4,"mh":28.9},
    {"d":"2017-07-12","g":3,"cl":21.3,"ch":30.0,"bl":22.3,"bh":28.0,"ml":22.8,"mh":25.3},
    {"d":"2017-07-19","g":3,"cl":25.2,"ch":38.0,"bl":26.2,"bh":36.5,"ml":26.7,"mh":29.2},
    {"d":"2017-07-25","g":3,"cl":17.8,"ch":24.0,"bl":18.8,"bh":22.5,"ml":19.3,"mh":21.8},
    {"d":"2017-08-09","g":4,"cl":22.0,"ch":30.5,"bl":23.0,"bh":29.0,"ml":23.5,"mh":26.0},
    {"d":"2017-08-10","g":4,"cl":15.6,"ch":22.0,"bl":16.6,"bh":21.0,"ml":17.1,"mh":19.6},
    {"d":"2017-08-16","g":4,"cl":20.6,"ch":31.0,"bl":21.6,"bh":30.0,"ml":22.1,"mh":24.6},
    {"d":"2017-08-21","g":4,"cl":19.2,"ch":27.5,"bl":20.2,"bh":26.5,"ml":20.7,"mh":23.2},
    {"d":"2017-08-28","g":4,"cl":23.4,"ch":32.0,"bl":24.4,"bh":30.9,"ml":24.9,"mh":27.4},
    {"d":"2017-09-27","g":5,"cl":17.0,"ch":22.7,"bl":17.5,"bh":21.8,"ml":18.9,"mh":20.1},
    {"d":"2017-10-02","g":5,"cl":14.5,"ch":20.0,"bl":15.0,"bh":19.3,"ml":16.4,"mh":17.6},
    {"d":"2017-10-07","g":5,"cl":12.8,"ch":18.3,"bl":13.3,"bh":17.6,"ml":14.7,"mh":15.9},
    {"d":"2017-10-13","g":5,"cl":14.0,"ch":19.5,"bl":14.5,"bh":18.8,"ml":15.9,"mh":17.1},
    {"d":"2017-10-19","g":5,"cl":14.2,"ch":19.7,"bl":14.7,"bh":19.0,"ml":16.1,"mh":17.3},
    {"d":"2017-10-21","g":5,"cl":13.0,"ch":18.5,"bl":13.5,"bh":17.8,"ml":14.9,"mh":16.1},
    {"d":"2017-10-25","g":5,"cl":12.1,"ch":17.6,"bl":12.6,"bh":16.9,"ml":14.0,"mh":15.2},
    {"d":"2017-10-30","g":5,"cl":8.5,"ch":14.0,"bl":9.0,"bh":13.3,"ml":10.4,"mh":11.6},
    {"d":"2017-11-04","g":5,"cl":10.9,"ch":13.9,"bl":11.5,"bh":13.6,"ml":12.5,"mh":13.3},
    {"d":"2017-11-11","g":5,"cl":6.2,"ch":9.2,"bl":6.8,"bh":8.9,"ml":7.8,"mh":8.6},
    {"d":"2017-11-16","g":5,"cl":5.5,"ch":8.5,"bl":6.1,"bh":8.2,"ml":7.1,"mh":7.9},
    {"d":"2017-11-23","g":5,"cl":7.6,"ch":10.6,"bl":8.2,"bh":10.3,"ml":9.2,"mh":10.0},
    {"d":"2017-11-28","g":5,"cl":4.5,"ch":7.5,"bl":5.1,"bh":7.2,"ml":6.1,"mh":6.9},
    {"d":"2017-12-02","g":5,"cl":1.9,"ch":4.9,"bl":2.5,"bh":4.6,"ml":3.5,"mh":4.3},
    {"d":"2017-12-07","g":5,"cl":3.3,"ch":6.3,"bl":3.9,"bh":6.0,"ml":4.9,"mh":5.7},
    {"d":"2017-12-10","g":5,"cl":3.0,"ch":6.0,"bl":3.6,"bh":5.7,"ml":4.6,"mh":5.4},
    {"d":"2017-12-14","g":5,"cl":4.0,"ch":7.0,"bl":4.6,"bh":6.7,"ml":5.6,"mh":6.4},
    {"d":"2017-12-18","g":5,"cl":1.9,"ch":4.9,"bl":2.5,"bh":4.6,"ml":3.5,"mh":4.3},
    {"d":"2017-12-24","g":5,"cl":5.1,"ch":8.1,"bl":5.7,"bh":7.8,"ml":6.7,"mh":7.5},
    {"d":"2017-12-29","g":5,"cl":1.9,"ch":4.9,"bl":2.5,"bh":4.6,"ml":3.5,"mh":4.3},
    {"d":"2018-01-02","g":5,"cl":7.6,"ch":10.6,"bl":8.2,"bh":10.3,"ml":9.2,"mh":10.0},
    {"d":"2018-01-05","g":5,"cl":7.2,"ch":10.2,"bl":7.8,"bh":9.9,"ml":8.8,"mh":9.6},
    {"d":"2018-01-09","g":5,"cl":5.5,"ch":8.5,"bl":6.1,"bh":8.2,"ml":7.1,"mh":7.9},
    {"d":"2018-01-13","g":5,"cl":4.4,"ch":7.4,"bl":5.0,"bh":7.1,"ml":6.0,"mh":6.8},
    {"d":"2018-01-19","g":5,"cl":4.4,"ch":7.4,"bl":5.0,"bh":7.1,"ml":6.0,"mh":6.8},
    {"d":"2018-01-24","g":5,"cl":6.5,"ch":9.5,"bl":7.1,"bh":9.2,"ml":8.1,"mh":8.9},
    {"d":"2018-01-30","g":5,"cl":6.9,"ch":9.9,"bl":7.5,"bh":9.6,"ml":8.5,"mh":9.3},
    {"d":"2018-02-04","g":5,"cl":3.0,"ch":6.0,"bl":3.6,"bh":5.7,"ml":4.6,"mh":5.4},
    {"d":"2018-02-08","g":5,"cl":2.5,"ch":5.5,"bl":3.1,"bh":5.2,"ml":4.1,"mh":4.9},
    {"d":"2018-02-13","g":5,"cl":1.9,"ch":4.9,"bl":2.5,"bh":4.6,"ml":3.5,"mh":4.3},
    {"d":"2018-02-16","g":5,"cl":3.3,"ch":6.3,"bl":3.9,"bh":6.0,"ml":4.9,"mh":5.7},
    {"d":"2018-02-20","g":5,"cl":1.6,"ch":4.6,"bl":2.2,"bh":4.3,"ml":3.2,"mh":4.0},
    {"d":"2018-02-24","g":5,"cl":0.0,"ch":3.0,"bl":0.6,"bh":2.7,"ml":1.6,"mh":2.4},
    {"d":"2018-02-27","g":5,"cl":-2.5,"ch":2.1,"bl":-1.0,"bh":1.8,"ml":0.7,"mh":1.5},
    {"d":"2018-03-02","g":5,"cl":-0.8,"ch":3.5,"bl":-0.3,"bh":3.0,"ml":0.8,"mh":2.0},
    {"d":"2018-03-06","g":5,"cl":2.5,"ch":8.0,"bl":3.0,"bh":7.2,"ml":4.2,"mh":5.8},
    {"d":"2018-03-10","g":5,"cl":7.1,"ch":12.6,"bl":7.6,"bh":11.8,"ml":8.8,"mh":10.4},
    {"d":"2018-03-16","g":5,"cl":6.4,"ch":11.9,"bl":6.9,"bh":11.1,"ml":8.1,"mh":9.7},
    {"d":"2018-03-21","g":5,"cl":2.8,"ch":8.3,"bl":3.3,"bh":7.5,"ml":4.5,"mh":6.1},
    {"d":"2018-03-26","g":5,"cl":5.7,"ch":11.2,"bl":6.2,"bh":10.4,"ml":7.4,"mh":9.0},
    {"d":"2018-04-02","g":5,"cl":6.6,"ch":14.0,"bl":7.6,"bh":13.0,"ml":8.6,"mh":10.8},
    {"d":"2018-04-09","g":5,"cl":11.6,"ch":21.6,"bl":12.6,"bh":20.6,"ml":13.6,"mh":15.8},
    {"d":"2018-04-18","g":5,"cl":13.7,"ch":23.7,"bl":14.7,"bh":22.7,"ml":15.7,"mh":17.9},
    {"d":"2018-04-24","g":5,"cl":18.0,"ch":28.5,"bl":19.0,"bh":27.5,"ml":20.0,"mh":22.2},
    {"d":"2018-04-30","g":5,"cl":15.0,"ch":25.0,"bl":16.0,"bh":24.0,"ml":17.0,"mh":19.2},
    {"d":"2018-05-07","g":5,"cl":19.4,"ch":29.4,"bl":20.4,"bh":28.4,"ml":21.4,"mh":23.6},
    {"d":"2018-05-11","g":5,"cl":15.0,"ch":24.0,"bl":16.0,"bh":23.0,"ml":17.0,"mh":19.2},
    {"d":"2018-05-16","g":5,"cl":13.0,"ch":20.0,"bl":14.0,"bh":19.0,"ml":15.0,"mh":17.2},
    {"d":"2018-05-21","g":5,"cl":15.5,"ch":25.5,"bl":16.5,"bh":24.5,"ml":17.5,"mh":19.7},
    {"d":"2018-05-26","g":5,"cl":18.5,"ch":29.5,"bl":19.5,"bh":28.5,"ml":20.5,"mh":22.7},
    {"d":"2018-06-04","g":5,"cl":22.0,"ch":33.5,"bl":23.0,"bh":32.0,"ml":23.5,"mh":26.0},
    {"d":"2018-06-11","g":5,"cl":21.3,"ch":31.5,"bl":22.3,"bh":30.0,"ml":22.8,"mh":25.3},
    {"d":"2018-06-13","g":5,"cl":18.1,"ch":24.5,"bl":19.1,"bh":23.5,"ml":19.6,"mh":22.1},
    {"d":"2018-06-20","g":5,"cl":22.7,"ch":36.0,"bl":23.7,"bh":32.7,"ml":24.2,"mh":26.7},
    {"d":"2018-06-25","g":5,"cl":22.0,"ch":32.5,"bl":23.0,"bh":31.0,"ml":23.5,"mh":26.0},
    {"d":"2018-06-30","g":5,"cl":23.4,"ch":35.0,"bl":24.4,"bh":33.4,"ml":24.9,"mh":27.4},
    {"d":"2018-07-03","g":5,"cl":24.5,"ch":36.5,"bl":25.5,"bh":34.5,"ml":26.0,"mh":28.5},
    {"d":"2018-07-11","g":5,"cl":21.3,"ch":31.0,"bl":22.3,"bh":29.5,"ml":22.8,"mh":25.3},
    {"d":"2018-07-18","g":5,"cl":24.1,"ch":35.6,"bl":25.1,"bh":34.1,"ml":25.6,"mh":28.1},
    {"d":"2018-07-24","g":5,"cl":25.0,"ch":36.5,"bl":26.0,"bh":35.0,"ml":26.5,"mh":29.0},
    {"d":"2018-07-29","g":5,"cl":26.8,"ch":38.0,"bl":27.8,"bh":36.0,"ml":28.3,"mh":30.8},
    {"d":"2018-08-05","g":5,"cl":28.2,"ch":38.5,"bl":29.2,"bh":36.5,"ml":29.7,"mh":32.2},
    {"d":"2018-08-10","g":5,"cl":25.4,"ch":36.0,"bl":26.4,"bh":34.5,"ml":26.9,"mh":29.4},
    {"d":"2018-08-15","g":5,"cl":23.4,"ch":32.0,"bl":24.4,"bh":30.5,"ml":24.9,"mh":27.4},
    {"d":"2018-08-22","g":5,"cl":25.4,"ch":34.5,"bl":26.4,"bh":33.0,"ml":26.9,"mh":29.4},
    {"d":"2018-08-25","g":5,"cl":19.9,"ch":26.0,"bl":20.9,"bh":25.0,"ml":21.4,"mh":23.9},
    {"d":"2018-08-31","g":5,"cl":17.0,"ch":23.5,"bl":17.5,"bh":22.5,"ml":18.7,"mh":20.3},
    {"d":"2018-09-05","g":5,"cl":19.2,"ch":25.7,"bl":19.7,"bh":24.7,"ml":20.9,"mh":22.5},
    {"d":"2018-09-12","g":5,"cl":21.3,"ch":27.8,"bl":21.8,"bh":26.8,"ml":23.0,"mh":24.6},
    {"d":"2018-09-20","g":5,"cl":19.9,"ch":26.4,"bl":20.4,"bh":25.4,"ml":21.6,"mh":23.2},
    {"d":"2018-09-26","g":5,"cl":16.3,"ch":22.8,"bl":16.8,"bh":21.8,"ml":18.0,"mh":19.6},
    {"d":"2018-10-01","g":5,"cl":13.5,"ch":19.0,"bl":14.0,"bh":18.3,"ml":15.4,"mh":16.6},
    {"d":"2018-10-07","g":5,"cl":14.9,"ch":20.4,"bl":15.4,"bh":19.7,"ml":16.8,"mh":18.0},
    {"d":"2018-10-14","g":5,"cl":14.5,"ch":20.0,"bl":15.0,"bh":19.3,"ml":16.4,"mh":17.6},
    {"d":"2018-10-20","g":5,"cl":12.1,"ch":17.6,"bl":12.6,"bh":16.9,"ml":14.0,"mh":15.2},
    {"d":"2018-10-24","g":5,"cl":11.4,"ch":16.9,"bl":11.9,"bh":16.2,"ml":13.3,"mh":14.5},
    {"d":"2018-10-28","g":5,"cl":7.8,"ch":13.3,"bl":8.3,"bh":12.6,"ml":9.7,"mh":10.9},
    {"d":"2018-10-31","g":5,"cl":5.7,"ch":11.2,"bl":6.2,"bh":10.5,"ml":7.6,"mh":8.8}
  ]
},
"vconcat": [
  {
    "width": 1037, "height": 62,
    "layer": [
      {"data": {"name": "shade"}, "mark": {"type": "rect", "fill": "#d3d3d3", "opacity": 0.5},
       "encoding": {
         "x": {"field": "s", "type": "temporal", "title": null,
               "scale": {"type": "utc", "domain": [{"year": 2016, "month": 11, "date": 1, "utc": true}, {"year": 2018, "month": 11, "date": 1, "utc": true}]},
               "axis": {"orient": "top", "format": "%Y-%m", "labelAngle": -30, "labelAlign": "left", "labelBaseline": "bottom", "labelFontSize": 22, "labelPadding": 2, "labelDx": 10,
                        "values": [{"year":2016,"month":11,"date":1,"utc":true},{"year":2017,"month":1,"date":1,"utc":true},{"year":2017,"month":3,"date":1,"utc":true},{"year":2017,"month":5,"date":1,"utc":true},{"year":2017,"month":7,"date":1,"utc":true},{"year":2017,"month":9,"date":1,"utc":true},{"year":2017,"month":11,"date":1,"utc":true},{"year":2018,"month":1,"date":1,"utc":true},{"year":2018,"month":3,"date":1,"utc":true},{"year":2018,"month":5,"date":1,"utc":true},{"year":2018,"month":7,"date":1,"utc":true},{"year":2018,"month":9,"date":1,"utc":true},{"year":2018,"month":11,"date":1,"utc":true}]}},
         "x2": {"field": "e"}
       }},
      {"data": {"name": "precip"}, "mark": {"type": "rule", "color": "#0000ff", "strokeWidth": 1.5, "clip": true},
       "encoding": {
         "x": {"field": "d", "type": "temporal"},
         "y": {"field": "mm", "type": "quantitative", "scale": {"domain": [0, 29.2], "reverse": true, "nice": false, "zero": false},
               "axis": {"values": [0, 25], "title": "P [mm/d]", "titleFontSize": 24, "titleX": -57, "titleY": 49, "titleBaseline": "alphabetic", "titleAngle": 270}},
         "y2": {"datum": 0}
       }}
    ]
  },
  {
    "width": 1037, "height": 283,
    "layer": [
      {"data": {"name": "shade"}, "mark": {"type": "rect", "fill": "#d3d3d3", "opacity": 0.5},
       "encoding": {
         "x": {"field": "s", "type": "temporal", "title": null,
               "scale": {"type": "utc", "domain": [{"year": 2016, "month": 11, "date": 1, "utc": true}, {"year": 2018, "month": 11, "date": 1, "utc": true}]},
               "axis": {"orient": "bottom", "labels": false, "values": [{"year":2016,"month":11,"date":1,"utc":true},{"year":2017,"month":1,"date":1,"utc":true},{"year":2017,"month":3,"date":1,"utc":true},{"year":2017,"month":5,"date":1,"utc":true},{"year":2017,"month":7,"date":1,"utc":true},{"year":2017,"month":9,"date":1,"utc":true},{"year":2017,"month":11,"date":1,"utc":true},{"year":2018,"month":1,"date":1,"utc":true},{"year":2018,"month":3,"date":1,"utc":true},{"year":2018,"month":5,"date":1,"utc":true},{"year":2018,"month":7,"date":1,"utc":true},{"year":2018,"month":9,"date":1,"utc":true},{"year":2018,"month":11,"date":1,"utc":true}]}},
         "x2": {"field": "e"},
         "y": {"datum": -17.8, "type": "quantitative"},
         "y2": {"datum": 48.2}
       }},
      {"data": {"name": "veg"}, "mark": {"type": "area", "fill": "#00ffff", "strokeWidth": 1, "interpolate": "linear"},
       "encoding": {
         "x": {"field": "d", "type": "temporal"},
         "y": {"field": "cl", "type": "quantitative", "scale": {"domain": [-15, 45.2], "nice": false, "zero": false},
               "axis": {"values": [-10, 0, 10, 20, 30, 40], "grid": true, "gridDash": [1.5, 3], "gridColor": "#a0a0a0", "gridWidth": 1,
                        "title": "Soil temp. [°C]", "titleFontSize": 34, "titleX": -56, "titleY": 284, "titleBaseline": "alphabetic", "titleAngle": 270}},
         "y2": {"field": "ch"},
         "detail": {"field": "g"},
         "stroke": {"datum": "<15 cm", "type": "nominal",
                    "scale": {"domain": ["<15 cm", "15-25 cm", ">25 cm"], "range": ["#00ffff", "#8080ff", "#ff00ff"]},
                    "legend": {"title": null, "orient": "none", "legendX": 160, "legendY": 85, "direction": "horizontal", "columns": 3,
                               "symbolType": "stroke", "symbolSize": 2916, "symbolStrokeWidth": 1.5, "labelFontSize": 26, "labelFont": "DejaVu Sans", "labelColor": "#000000",
                               "labelOffset": 22, "columnPadding": 57, "padding": 10, "fillColor": "rgba(255,255,255,0.8)", "strokeColor": "#cccccc", "cornerRadius": 4}}
       }},
      {"data": {"name": "veg"}, "mark": {"type": "area", "fill": "#8080ff", "strokeWidth": 1, "interpolate": "linear"},
       "encoding": {
         "x": {"field": "d", "type": "temporal"},
         "y": {"field": "bl", "type": "quantitative"},
         "y2": {"field": "bh"},
         "detail": {"field": "g"},
         "stroke": {"datum": "15-25 cm", "type": "nominal"}
       }},
      {"data": {"name": "veg"}, "mark": {"type": "area", "fill": "#ff00ff", "strokeWidth": 1, "interpolate": "linear"},
       "encoding": {
         "x": {"field": "d", "type": "temporal"},
         "y": {"field": "ml", "type": "quantitative"},
         "y2": {"field": "mh"},
         "detail": {"field": "g"},
         "stroke": {"datum": ">25 cm", "type": "nominal"}
       }},
      {"data": {"values": [{}]}, "mark": {"type": "rect", "fill": "#555555", "opacity": 0.95, "stroke": "#ffffff", "strokeWidth": 1},
       "encoding": {
         "x": {"datum": {"year": 2016, "month": 11, "date": 9, "utc": true}, "type": "temporal"},
         "x2": {"datum": {"year": 2017, "month": 2, "date": 28, "utc": true}},
         "y": {"datum": -13.5, "type": "quantitative"},
         "y2": {"datum": -4.7}
       }},
      {"data": {"values": [{}]}, "mark": {"type": "text", "text": "Vegetated", "color": "#ffffff", "fontSize": 27, "font": "DejaVu Sans", "align": "center", "baseline": "middle"},
       "encoding": {
         "x": {"datum": {"year": 2017, "month": 1, "date": 4, "utc": true}, "type": "temporal"},
         "y": {"datum": -9.1, "type": "quantitative"}
       }}
    ]
  },
  {
    "width": 1037, "height": 282,
    "layer": [
      {"data": {"name": "shade"}, "mark": {"type": "rect", "fill": "#d3d3d3", "opacity": 0.5},
       "encoding": {
         "x": {"field": "s", "type": "temporal", "title": null,
               "scale": {"type": "utc", "domain": [{"year": 2016, "month": 11, "date": 1, "utc": true}, {"year": 2018, "month": 11, "date": 1, "utc": true}]},
               "axis": {"orient": "bottom", "format": "%Y-%m", "labelAngle": -30, "labelAlign": "right", "labelBaseline": "top", "labelFontSize": 20, "labelPadding": 3,
                        "values": [{"year":2016,"month":11,"date":1,"utc":true},{"year":2017,"month":1,"date":1,"utc":true},{"year":2017,"month":3,"date":1,"utc":true},{"year":2017,"month":5,"date":1,"utc":true},{"year":2017,"month":7,"date":1,"utc":true},{"year":2017,"month":9,"date":1,"utc":true},{"year":2017,"month":11,"date":1,"utc":true},{"year":2018,"month":1,"date":1,"utc":true},{"year":2018,"month":3,"date":1,"utc":true},{"year":2018,"month":5,"date":1,"utc":true},{"year":2018,"month":7,"date":1,"utc":true},{"year":2018,"month":9,"date":1,"utc":true},{"year":2018,"month":11,"date":1,"utc":true}]}},
         "x2": {"field": "e"}
       }},
      {"data": {"name": "pps"}, "mark": {"type": "area", "fill": "#00ffff", "stroke": "#00ffff", "strokeWidth": 1, "interpolate": "linear"},
       "encoding": {
         "x": {"field": "d", "type": "temporal"},
         "y": {"field": "cl", "type": "quantitative", "scale": {"domain": [-15, 44.9], "nice": false, "zero": false},
               "axis": {"values": [-10, 0, 10, 20, 30, 40], "grid": true, "gridDash": [1.5, 3], "gridColor": "#a0a0a0", "gridWidth": 1, "title": null}},
         "y2": {"field": "ch"},
         "detail": {"field": "g"}
       }},
      {"data": {"name": "pps"}, "mark": {"type": "area", "fill": "#8080ff", "stroke": "#8080ff", "strokeWidth": 1, "interpolate": "linear"},
       "encoding": {
         "x": {"field": "d", "type": "temporal"},
         "y": {"field": "bl", "type": "quantitative"},
         "y2": {"field": "bh"},
         "detail": {"field": "g"}
       }},
      {"data": {"name": "pps"}, "mark": {"type": "area", "fill": "#ff00ff", "stroke": "#ff00ff", "strokeWidth": 1, "interpolate": "linear"},
       "encoding": {
         "x": {"field": "d", "type": "temporal"},
         "y": {"field": "ml", "type": "quantitative"},
         "y2": {"field": "mh"},
         "detail": {"field": "g"}
       }},
      {"data": {"values": [{}]}, "mark": {"type": "rect", "fill": "#555555", "opacity": 0.95, "stroke": "#ffffff", "strokeWidth": 1},
       "encoding": {
         "x": {"datum": {"year": 2016, "month": 11, "date": 9, "utc": true}, "type": "temporal"},
         "x2": {"datum": {"year": 2016, "month": 12, "date": 23, "utc": true}},
         "y": {"datum": -13.3, "type": "quantitative"},
         "y2": {"datum": -4.7}
       }},
      {"data": {"values": [{}]}, "mark": {"type": "text", "text": "PPs", "color": "#ffffff", "fontSize": 27, "font": "DejaVu Sans", "align": "center", "baseline": "middle"},
       "encoding": {
         "x": {"datum": {"year": 2016, "month": 12, "date": 1, "utc": true}, "type": "temporal"},
         "y": {"datum": -8.9, "type": "quantitative"}
       }}
    ]
  }
]
}
